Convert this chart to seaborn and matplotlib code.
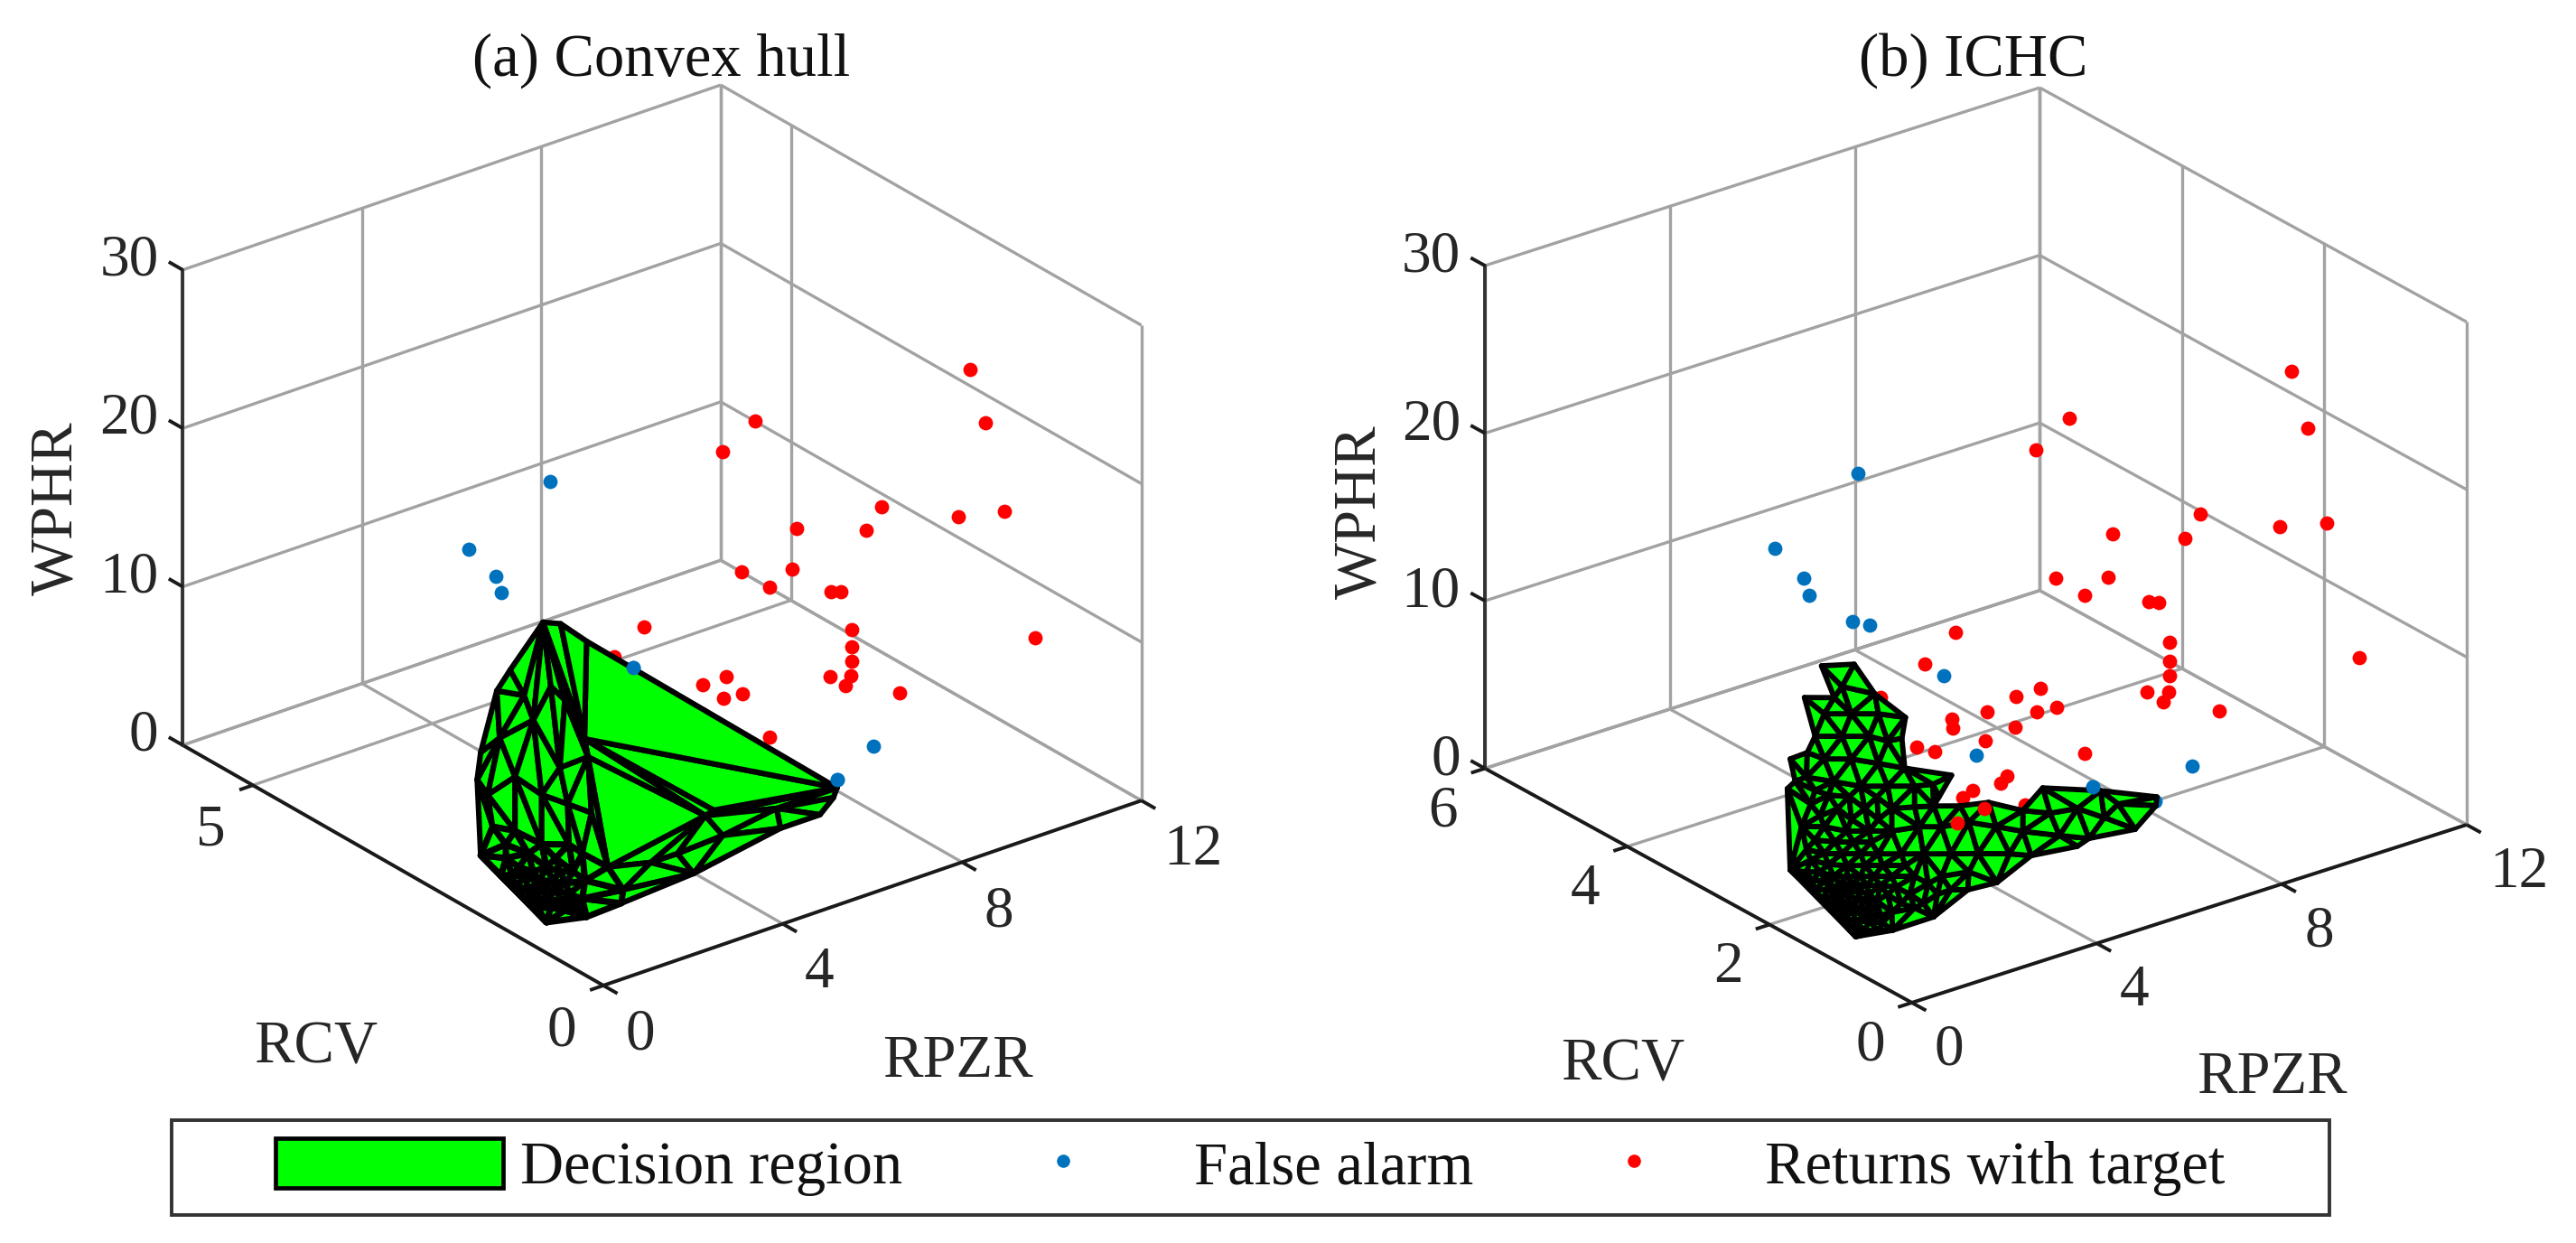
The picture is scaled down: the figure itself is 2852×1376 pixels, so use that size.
import numpy as np
import matplotlib
matplotlib.use('Agg')
import matplotlib.pyplot as plt
import seaborn as sns
from matplotlib.lines import Line2D
from matplotlib.patches import Patch, Rectangle
from matplotlib.path import Path
from matplotlib.tri import Triangulation
from mpl_toolkits.mplot3d import proj3d
from mpl_toolkits.mplot3d.art3d import Poly3DCollection

# Returns with target (all at RCV 1.5 as read from the two views)
rpzr_target = [10.52, 10.87, 5.72, 5.0, 8.54, 8.21, 6.66, 10.27, 11.28, 5.43, 6.55, 6.05, 7.43, 7.65, 3.25,
               7.89, 7.89, 7.89, 7.87, 7.4, 7.74, 8.95, 4.56, 5.09, 5.02, 5.45, 6.05, 11.98, 2.59,
               1.64, 3.93, 4.54, 3.17, 3.19, 3.9, 2.42, 2.81, 4.36, 4.23, 3.63, 3.4, 4.75, 4.18, 1.91]
wphr_target = [24.85, 21.16, 26.3, 25.06, 18.12, 16.94, 18.6, 15.82, 15.16, 17.05, 16.1, 15.44, 13.85, 13.62, 15.7,
               11.02, 9.91, 9.02, 8.1, 8.5, 7.58, 5.97, 10.75, 10.75, 9.43, 9.32, 6.01, 6.48, 14.45,
               13.25, 10.37, 8.93, 10.62, 10.09, 8.7, 9.63, 9.0, 6.17, 5.85, 5.96, 5.73, 4.12, 2.16, 5.69]
rcv_target = [1.5] * len(rpzr_target)

# targets that sit in front of the ICHC region
rpzr_front = [3.88, 3.29]
wphr_front = [4.65, 4.32]
rcv_front = [1.5] * len(rpzr_front)

# False alarms
rpzr_alarm = [0.37, 0.12, 0.73, 0.85, 3.0, 8.37, 7.57, 6.22, 1.8, 2.16, 4.47]
rcv_alarm = [1, 2, 2, 2, 1.5, 1.5, 1.5, 1.5, 2, 2, 2]
wphr_alarm = [28.9, 22.35, 20.05, 18.9, 13.35, 3.2, 1.85, 3.86, 16.48, 15.98, 6.14]
alarm_show = {'a': [0, 1, 2, 3, 4, 5, 6, 7, 10], 'b': [0, 1, 2, 3, 4, 5, 6, 7, 8, 9, 10]}
alarm_over = {'a': [4, 6], 'b': [7]}

# Convex hull region: the long facets, listed vertex by vertex
rpzr_hull = [0, 0, 0, 5.21, 5.13, 4.83, 3.95, 2.01, 0.40, 0, 0, 0, 0, 0, 2.27, 2.46, 0.10, 0, 0, 0, 0,
             0, 0, 0, 0, 0, 0, 0.44, 0, 2.66, 3.86, 1.65, 1.05, 0, 0, 0, 0, 0, 0, 0, 0]
rcv_hull = [0.86, 0.61, 0.24, 0, 0, 0, 0, 0, 0, 0.27, 0.22, 0.62, 1.0, 1.48, 0, 0, 0, 1.52, 1.33, 1.75, 1.80,
            1.75, 0.30, 0.88, 1.26, 1.58, 0.49, 0, 0.17, 0, 0, 0, 0, 0.75, 0.55, 1.13, 1.26, 0.88, 1.65, 0.51, 0.17]
wphr_hull = [20.75, 21.29, 21.12, 7.41, 6.86, 6.08, 6.08, 5.11, 4.80, 14.89, 13.88, 12.18, 14.23, 11.89, 8.51, 8.67, 7.38, 14.76, 16.55, 10.29, 8.45,
             3.79, 7.58, 6.69, 6.57, 6.04, 7.66, 5.61, 4.48, 6.88, 7.42, 6.72, 6.74, 16.99, 16.63, 15.45, 9.99, 9.82, 7.87, 10.17, 10.47]
hull_facets = [(0, 1, 9), (1, 2, 9), (2, 3, 9), (0, 9, 34), (0, 34, 33), (33, 34, 11), (34, 9, 10), (34, 10, 11),
               (0, 33, 12), (33, 11, 12), (0, 12, 35), (0, 35, 18), (18, 35, 17), (35, 12, 13), (35, 13, 17),
               (17, 13, 19), (19, 13, 20), (12, 11, 37), (12, 37, 36), (13, 12, 36), (13, 36, 38), (13, 38, 20),
               (11, 10, 39), (11, 39, 37), (10, 40, 39), (10, 16, 40), (40, 16, 22), (39, 40, 22), (39, 22, 26),
               (37, 39, 26), (37, 26, 23), (36, 37, 23), (36, 23, 24), (38, 36, 24), (38, 24, 25), (20, 38, 25),
               (20, 25, 21), (9, 3, 15), (9, 15, 14), (10, 9, 14), (10, 14, 16), (14, 15, 3), (14, 3, 30),
               (3, 4, 30), (4, 5, 30), (5, 6, 30), (14, 30, 29), (30, 6, 29), (14, 29, 31), (29, 6, 7), (29, 7, 31),
               (14, 31, 32), (14, 32, 16), (16, 32, 27), (32, 31, 7), (32, 7, 27), (27, 7, 8), (16, 27, 28)]

# Convex hull region: the dense base, the first 11 vertices go round its outline
rpzr_base = [0, 0, 0, 0, 0, 0.10, 0.44, 0.40, 0, 0, 0,
             0, 0, 0, 0, 0, 0, 0, 0, 0, 0, 0, 0, 0, 0, 0, 0, 0, 0, 0,
             0, 0, 0, 0, 0, 0, 0, 0, 0, 0, 0, 0, 0]
rcv_base = [1.58, 1.26, 0.88, 0.49, 0.30, 0, 0, 0, 0.24, 0.81, 1.75,
            1.39, 1.20, 1.0, 0.81, 0.62, 0.43, 0.26, 1.46, 1.26, 1.07, 0.88, 0.68, 0.49, 0.30, 1.07, 0.94, 0.75, 0.55, 0.36,
            1.39, 1.07, 0.68, 1.30, 1.11, 0.91, 0.72, 0.53, 1.17, 0.98, 0.79, 0.59, 0.40]
wphr_base = [6.04, 6.57, 6.69, 7.66, 7.58, 7.38, 5.61, 4.80, 3.72, 1.94, 3.79,
             4.53, 4.44, 4.65, 5.42, 5.62, 6.12, 5.97, 3.22, 3.14, 3.34, 3.83, 4.32, 4.52, 4.73, 2.49, 2.53, 3.02, 3.34, 3.82,
             5.39, 5.62, 6.32, 3.73, 3.99, 4.31, 4.79, 5.11, 2.80, 3.00, 3.49, 3.80, 4.18]

# ICHC region, the first 32 vertices go round the outline
rpzr_ichc = [0, 0, 0, 0, 0, 0, 0.86, 0.59, 0.47, 1.04, 1.66, 2.40, 2.83, 4.08, 5.30, 5.28, 4.83, 3.83, 3.58, 2.58, 1.84, 1.21, 0.47,
             0, 0, 0, 0, 0, 0, 0, 0, 0,
             0, 0, 0, 0, 0, 0, 0, 0, 0, 0, 0, 0, 0, 0, 0, 0.06, 0.45, 0, 0, 0, 0.0, 0.06,
             0, 0, 0, 0, 0, 0.16, 0.64, 1.23, 1.82, 2.40, 2.99, 3.58, 4.46, 4.16, 3.19,
             0, 0, 0, 0, 0, 0, 0.25, 0.84, 1.43, 2.11,
             0, 0, 0, 0, 0, 0, 0, 0.06, 0.64, 1.23,
             0, 0, 0, 0, 0, 0, 0, 0.55, 0, 0, 0, 0, 0, 0.06, 0, 0, 0, 0,
             0, 0, 0, 0, 0, 0, 0, 0, 0, 0, 0, 0, 0, 0, 0, 0, 0, 0,
             0, 0, 0, 0, 0, 0, 0, 0, 0, 0, 0, 0, 0, 0, 0, 0,
             0.25, 0, 0, 0.35, 0.84, 0]
rcv_ichc = [1.27, 0.81, 0.52, 0.09, 0.14, 0.10, 0, 0, 0, 0, 0, 0, 0, 0, 0, 0, 0, 0, 0, 0, 0, 0, 0,
            0.27, 0.79, 1.71, 1.75, 1.64, 1.71, 1.47, 1.51, 1.09,
            0.98, 1.23, 0.85, 0.47, 1.36, 0.98, 0.60, 0.34, 1.23, 0.85, 0.47, 1.48, 1.10, 0.72, 0.34, 0, 0, 1.42, 1.04, 0.66, 0.28, 0,
            1.55, 1.23, 0.91, 0.60, 0.28, 0, 0, 0, 0, 0, 0, 0, 0, 0, 0,
            1.48, 1.23, 0.98, 0.72, 0.47, 0.15, 0, 0, 0, 0,
            1.48, 1.29, 1.10, 0.91, 0.72, 0.53, 0.28, 0, 0, 0,
            1.36, 1.17, 0.98, 0.79, 0.60, 0.34, 0.03, 0, 1.10, 0.91, 0.72, 0.53, 0.28, 0, 0.98, 0.79, 0.60, 0.41,
            1.40, 1.21, 1.01, 0.82, 0.63, 0.44, 1.26, 1.07, 0.88, 0.69, 0.49, 0.98, 0.82, 0.63, 0.44, 0.82, 0.66, 0.47,
            1.42, 1.17, 0.91, 0.66, 0.41, 1.36, 1.08, 0.82, 0.57, 1.29, 0.85, 0.47, 1.17, 0.88, 0.49, 1.36,
            0, 0.15, 0.22, 0, 0, 0.09]
wphr_ichc = [17.14, 18.31, 17.21, 16.81, 15.45, 13.76, 12.81, 11.76, 11.32, 10.82, 10.48, 9.34, 10.31, 9.04, 7.59, 7.08, 6.07, 6.41, 6.16, 6.49, 5.54, 5.66, 4.70,
             3.69, 2.10, 3.94, 8.69, 9.39, 10.56, 11.50, 14.69, 15.66,
             16.58, 14.37, 15.26, 16.14, 12.73, 13.61, 14.50, 14.82, 11.68, 12.56, 13.18, 10.01, 10.63, 11.24, 12.13, 12.87, 12.63, 8.55, 9.16, 10.04, 10.93, 11.63,
             6.90, 7.64, 8.11, 8.85, 9.59, 10.36, 9.93, 9.68, 8.90, 8.10, 8.66, 8.42, 7.91, 7.36, 7.15,
             5.70, 6.03, 6.61, 7.21, 7.79, 8.53, 8.66, 8.14, 7.63, 7.02,
             4.36, 4.80, 4.98, 5.42, 5.86, 6.30, 6.89, 7.49, 6.97, 6.72,
             3.58, 4.02, 4.46, 4.90, 5.08, 5.67, 6.40, 5.98, 3.36, 3.80, 3.97, 4.42, 4.74, 5.60, 2.84, 3.02, 3.46, 3.80,
             4.03, 4.47, 4.75, 5.19, 5.53, 5.97, 3.27, 3.88, 4.32, 4.49, 4.93, 3.27, 3.47, 3.80, 4.19, 2.50, 2.77, 3.21,
             5.21, 5.53, 6.06, 6.65, 7.24, 6.54, 7.08, 7.67, 8.26, 8.14, 8.96, 9.84, 9.67, 10.24, 11.13, 9.50,
             5.70, 5.57, 6.39, 6.80, 5.99, 7.98]

x_ticks = [0, 4, 8, 12]
z_ticks = [0, 10, 20, 30]
y_ticks_a = [0, 5]
y_ticks_b = [0, 2, 4, 6]
legend_labels = ['Decision region', 'False alarm', 'Returns with target']

sns.set_theme(style='white')
plt.rcParams['font.family'] = ['Liberation Serif', 'DejaVu Serif']
blue, red = sns.color_palette(['#0072BD', '#FF0000'])
green = '#00FF00'
grid_col = '#A2A2A2'
text_col = '#262626'

W, H = 2852, 1376
fig = plt.figure(figsize=(W / 100, H / 100), dpi=100)
fig.patch.set_facecolor('white')


def make_axes(left, top, size, box, elev, azim):
    rect = [left / W, 1 - (top + size) / H, size / W, size / H]
    ax = fig.add_axes(rect, projection='3d', computed_zorder=False, proj_type='ortho')
    ax.set_facecolor('none')
    ax.set_xlim(0, 12)
    ax.set_ylim(0, 6)
    ax.set_zlim(0, 30)
    ax.set_box_aspect(box)
    ax.view_init(elev=elev, azim=azim)
    ax.set_axis_off()
    return ax


def draw_box(ax, y_ticks, offs):
    grid = dict(color=grid_col, lw=2.4, zorder=1, solid_capstyle='butt')
    for xt in x_ticks:
        ax.plot([xt, xt], [0, 6], [0, 0], **grid)
        ax.plot([xt, xt], [6, 6], [0, 30], **grid)
    for yt in y_ticks + [6]:
        ax.plot([0, 12], [yt, yt], [0, 0], **grid)
        ax.plot([12, 12], [yt, yt], [0, 30], **grid)
    for zt in z_ticks:
        ax.plot([0, 12], [6, 6], [zt, zt], **grid)
        ax.plot([12, 12], [0, 6], [zt, zt], **grid)

    dark = dict(color='#1A1A1A', lw=2.8, zorder=2, solid_capstyle='butt')
    ax.plot([0, 12], [0, 0], [0, 0], **dark)
    ax.plot([0, 0], [0, 6], [0, 0], **dark)
    ax.plot([0, 0], [6, 6], [0, 30], color='#333333', lw=2.8, zorder=2)

    font = dict(fontsize=47, color=text_col)
    for xt in x_ticks:
        ax.plot([xt, xt], [0, -0.2], [0, 0], **dark)
        ax.text(xt, -offs['xd'], -offs['xk'], str(xt), ha='left', va='center', **font)
    for yt in y_ticks:
        ax.plot([0, -0.3], [yt, yt], [0, 0], **dark)
        ax.text(-offs['yd'], yt, -offs['yk'], str(yt), ha='center', va='center', **font)
    for zt in z_ticks:
        ax.plot([0, 0], [6, 6.2], [zt, zt], **dark)
        ax.text(-offs['zd'], 6, zt + offs['zk'], str(zt), ha='right', va='center', **font)


def add_facets(ax, xs, ys, zs, facets, lw, zorder=4):
    verts = [np.column_stack([xs[t], ys[t], zs[t]]) for t in facets]
    ax.add_collection3d(Poly3DCollection(verts, facecolors=green, edgecolors='black',
                                         linewidths=lw, zorder=zorder))


def draw_region(ax, xs, ys, zs, n_edge, lw, zorder=4):
    # triangulate the vertices as seen on screen, then drop what falls outside the outline
    xs, ys, zs = np.array(xs), np.array(ys), np.array(zs)
    px, py, _ = proj3d.proj_transform(xs, ys, zs, ax.get_proj())
    tri = Triangulation(px, py)
    outline = Path(np.column_stack([px[:n_edge], py[:n_edge]]))
    centres = np.column_stack([px[tri.triangles].mean(axis=1), py[tri.triangles].mean(axis=1)])
    add_facets(ax, xs, ys, zs, tri.triangles[outline.contains_points(centres)], lw, zorder)


def scatter(ax, xs, ys, zs, col, zorder):
    ax.scatter(xs, ys, zs, s=130, color=col, linewidths=0, depthshade=False, zorder=zorder)


def pick(values, idx):
    return [values[i] for i in idx]


# (a) Convex hull
ax_a = make_axes(124.5, 16, 1185, (754, 760, 587), 26.3, -127.8)
draw_box(ax_a, y_ticks_a, dict(xd=0.31, xk=2.35, yd=0.93, yk=2.0, zd=0.54, zk=1.1))
scatter(ax_a, rpzr_target + rpzr_front, rcv_target + rcv_front, wphr_target + wphr_front, red, 3)
idx = alarm_show['a']
scatter(ax_a, pick(rpzr_alarm, idx), pick(rcv_alarm, idx), pick(wphr_alarm, idx), blue, 3)
add_facets(ax_a, np.array(rpzr_hull), np.array(rcv_hull), np.array(wphr_hull), np.array(hull_facets), 4.4)
draw_region(ax_a, rpzr_base, rcv_base, wphr_base, 11, 5.0, zorder=4.5)
idx = alarm_over['a']
scatter(ax_a, pick(rpzr_alarm, idx), pick(rcv_alarm, idx), pick(wphr_alarm, idx), blue, 5)

# (b) ICHC
ax_b = make_axes(1561, 10, 1220, (773, 778, 613), 24.8, -127.4)
draw_box(ax_b, y_ticks_b, dict(xd=0.32, xk=2.1, yd=0.9, yk=1.79, zd=0.53, zk=0.95))
scatter(ax_b, rpzr_target, rcv_target, wphr_target, red, 3)
idx = alarm_show['b']
scatter(ax_b, pick(rpzr_alarm, idx), pick(rcv_alarm, idx), pick(wphr_alarm, idx), blue, 3)
draw_region(ax_b, rpzr_ichc, rcv_ichc, wphr_ichc, 32, 4.2)
scatter(ax_b, rpzr_front, rcv_front, wphr_front, red, 5)
idx = alarm_over['b']
scatter(ax_b, pick(rpzr_alarm, idx), pick(rcv_alarm, idx), pick(wphr_alarm, idx), blue, 5)

# titles, axis names and legend go on a flat overlay in image pixels
top = fig.add_axes([0, 0, 1, 1])
top.set_xlim(0, W)
top.set_ylim(H, 0)
top.axis('off')

top.text(732, 67, '(a) Convex hull', fontsize=48, color='#111111', ha='center', va='center')
top.text(2185, 67, '(b) ICHC', fontsize=48, color='#111111', ha='center', va='center')
label_font = dict(fontsize=48, color=text_col, ha='center', va='center')
top.text(350, 1160, 'RCV', **label_font)
top.text(1060, 1176, 'RPZR', **label_font)
top.text(63, 563, 'WPHR', rotation=90, **label_font)
top.text(1797, 1179, 'RCV', **label_font)
top.text(2515, 1194, 'RPZR', **label_font)
top.text(1506, 567, 'WPHR', rotation=90, **label_font)

top.add_patch(Rectangle((190, 1240), 2389, 105, fill=False, edgecolor='#333333', lw=2.8))
handles = [Patch(facecolor=green, edgecolor='black', lw=3.4),
           Line2D([], [], ls='none', marker='o', ms=10.5, mew=0, color=blue),
           Line2D([], [], ls='none', marker='o', ms=10.5, mew=0, color=red)]
top.legend(handles, legend_labels, loc='center', bbox_to_anchor=(1384, 1292),
           bbox_transform=top.transData, ncol=3, frameon=False, fontsize=48,
           handlelength=3.78, handleheight=0.885, handletextpad=0.285, columnspacing=0.78,
           labelcolor='#111111')

fig.savefig('out.png', dpi=100, facecolor='white')
